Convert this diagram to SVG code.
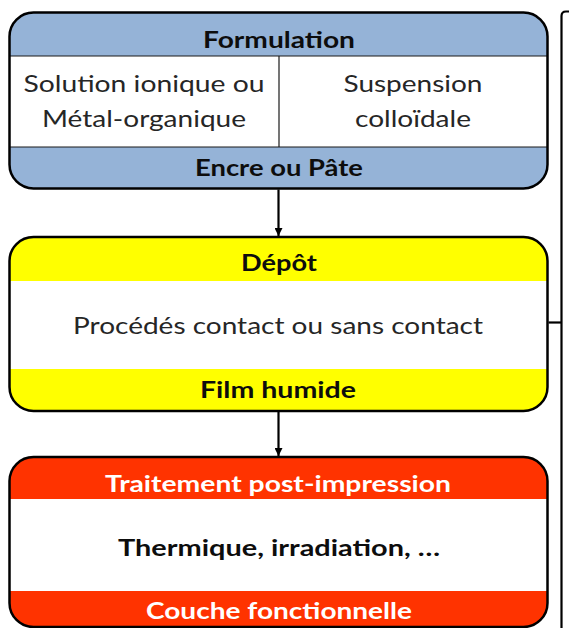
<svg xmlns="http://www.w3.org/2000/svg" width="569" height="628" viewBox="0 0 569 628">
  <style>
    .bg { fill: #ffffff; }
    .frame { fill: none; stroke: #000000; stroke-width: 2.5; }
    .sep { stroke: #1a1a1a; stroke-width: 1.2; fill: none; }
    .wire { stroke: #000000; stroke-width: 2.2; fill: none; }
    .blue { fill: #95b3d7; }
    .yellow { fill: #ffff00; }
    .red { fill: #ff3300; }
    .white { fill: #ffffff; }
    text { font-family: Lato, "Liberation Sans", sans-serif; text-anchor: middle; }
    .head { font-weight: bold; font-size: 22px; fill: #0d0d0d; }
    .headw { font-weight: bold; font-size: 22px; fill: #ffffff; }
    .body { font-size: 23px; fill: #262626; }
    .bodyb { font-weight: bold; font-size: 22px; fill: #0d0d0d; }
  </style>
  <defs>
    <clipPath id="clip-formulation"><rect x="9.5" y="12.5" width="538" height="176" rx="24"/></clipPath>
    <clipPath id="clip-depot"><rect x="9.5" y="237" width="538" height="174" rx="24"/></clipPath>
    <clipPath id="clip-traitement"><rect x="9.5" y="457" width="538" height="170" rx="24"/></clipPath>
    <marker id="arrow" markerWidth="8" markerHeight="8" refX="8" refY="4" orient="auto" markerUnits="userSpaceOnUse">
      <path d="M0,0 L8,4 L0,8 Z" fill="#000000"/>
    </marker>
  </defs>

  <rect class="bg" x="0" y="0" width="569" height="628"/>

  <!-- Step 1: formulation -->
  <g id="formulation">
    <g clip-path="url(#clip-formulation)">
      <rect class="blue" x="9.5" y="12.5" width="538" height="43.5"/>
      <rect class="white" x="9.5" y="56" width="538" height="91"/>
      <rect class="blue" x="9.5" y="147" width="538" height="42"/>
    </g>
    <line class="sep" x1="9.5" y1="56" x2="547.5" y2="56"/>
    <line class="sep" x1="9.5" y1="147" x2="547.5" y2="147"/>
    <line class="sep" x1="279" y1="56" x2="279" y2="147"/>
    <rect class="frame" x="9.5" y="12.5" width="538" height="176" rx="24"/>
    <text class="head" x="279" y="48" textLength="152" lengthAdjust="spacingAndGlyphs">Formulation</text>
    <text class="body" x="144" y="92" textLength="241" lengthAdjust="spacingAndGlyphs">Solution ionique ou</text>
    <text class="body" x="144" y="127" textLength="204" lengthAdjust="spacingAndGlyphs">Métal-organique</text>
    <text class="body" x="413" y="92" textLength="139" lengthAdjust="spacingAndGlyphs">Suspension</text>
    <text class="body" x="413" y="127" textLength="116" lengthAdjust="spacingAndGlyphs">colloïdale</text>
    <text class="head" x="279" y="176" textLength="168" lengthAdjust="spacingAndGlyphs">Encre ou Pâte</text>
  </g>

  <!-- Step 2: deposition -->
  <g id="depot">
    <g clip-path="url(#clip-depot)">
      <rect class="yellow" x="9.5" y="237" width="538" height="44"/>
      <rect class="white" x="9.5" y="281" width="538" height="88"/>
      <rect class="yellow" x="9.5" y="369" width="538" height="42"/>
    </g>
    <rect class="frame" x="9.5" y="237" width="538" height="174" rx="24"/>
    <text class="head" x="279" y="271" textLength="76" lengthAdjust="spacingAndGlyphs">Dépôt</text>
    <text class="body" x="278" y="334" textLength="410" lengthAdjust="spacingAndGlyphs">Procédés contact ou sans contact</text>
    <text class="head" x="278" y="398" textLength="156" lengthAdjust="spacingAndGlyphs">Film humide</text>
  </g>

  <!-- Step 3: post-print treatment -->
  <g id="traitement">
    <g clip-path="url(#clip-traitement)">
      <rect class="red" x="9.5" y="457" width="538" height="42"/>
      <rect class="white" x="9.5" y="499" width="538" height="92"/>
      <rect class="red" x="9.5" y="591" width="538" height="37"/>
    </g>
    <rect class="frame" x="9.5" y="457" width="538" height="170" rx="24"/>
    <text class="headw" x="278" y="492" textLength="346" lengthAdjust="spacingAndGlyphs">Traitement post-impression</text>
    <text class="bodyb" x="279" y="556" textLength="322" lengthAdjust="spacingAndGlyphs">Thermique, irradiation, …</text>
    <text class="headw" x="279" y="619" textLength="266" lengthAdjust="spacingAndGlyphs">Couche fonctionnelle</text>
  </g>

  <!-- Connectors -->
  <g id="connectors">
    <line class="wire" x1="278.5" y1="189.5" x2="278.5" y2="236" marker-end="url(#arrow)"/>
    <line class="wire" x1="278.5" y1="412" x2="278.5" y2="456" marker-end="url(#arrow)"/>
    <path class="wire" d="M569,11.5 L566,11.5 Q561.5,11.5 561.5,16 L561.5,628"/>
    <line class="wire" x1="548.5" y1="322.5" x2="561.5" y2="322.5"/>
  </g>
</svg>
